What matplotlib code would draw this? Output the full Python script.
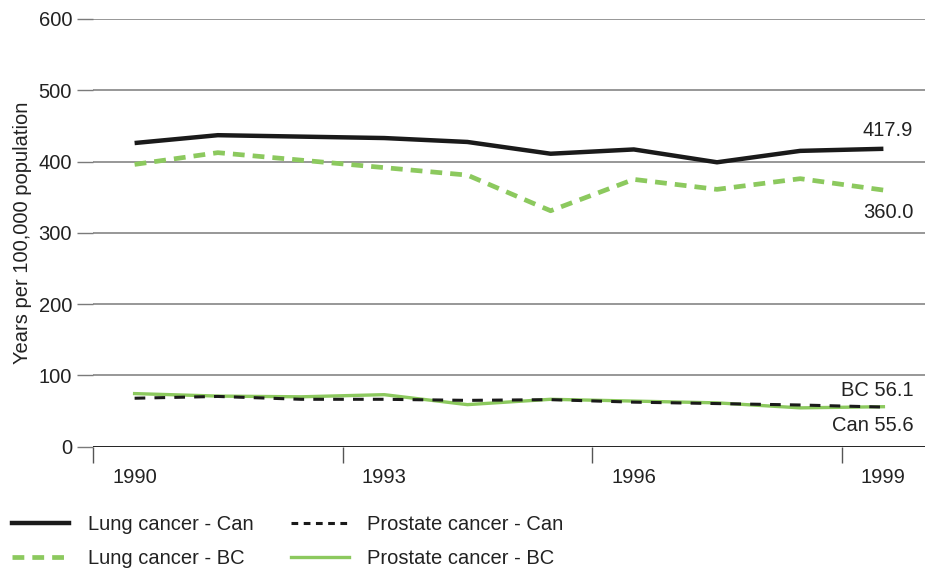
import matplotlib
matplotlib.use("Agg")
import matplotlib.pyplot as plt
from matplotlib.lines import Line2D

plt.rcParams['font.family'] = ['Liberation Sans', 'DejaVu Sans']

years = ['1990', '1991', '1992', '1993', '1994', '1995', '1996', '1997', '1998', '1999']
lung_can = [426, 437, 435, 433, 427.5, 411, 417, 399, 415, 417.9]
lung_bc = [396, 412.5, 402, 391.5, 381, 331, 375, 361, 376, 360.0]
prost_can = [68, 70.5, 66.5, 66.5, 65, 66, 62.5, 60.5, 58.5, 55.6]
prost_bc = [74.5, 71, 70, 73, 59, 66.5, 64, 61.5, 54.5, 56.1]
tick_labels = ['1990', '1993', '1996', '1999']
yticks = [0, 100, 200, 300, 400, 500, 600]

GREEN = '#8cc95e'
GRID = '#7a7a7a'

W, H = 927, 569
fig = plt.figure(figsize=(W / 100, H / 100), dpi=100)
ax = fig.add_axes([93 / W, 1 - 446.7 / H, (925 - 93) / W, (446.7 - 19) / H])

x = list(range(len(years)))
ax.plot(x, lung_can, color='#1a1a1a', lw=3.2, solid_capstyle='butt', zorder=4)
ax.plot(x, lung_bc, color=GREEN, lw=3.4, dashes=(2.5, 1.7), zorder=4)
ax.plot(x, prost_can, color='#1a1a1a', lw=2.2, dashes=(3.5, 3.0), zorder=4)
ax.plot(x, prost_bc, color=GREEN, lw=2.4, zorder=3)

ax.set_xlim(-0.5, 9.5)
ax.set_ylim(0, 600)

for v in yticks[1:]:
    ax.axhline(v, color=GRID, lw=1.1, zorder=1)
ax.axhline(0, color='#222222', lw=1.4, zorder=2)

for s in ['top', 'right', 'left', 'bottom']:
    ax.spines[s].set_visible(False)

ax.set_yticks(yticks)
ax.set_yticklabels([str(v) for v in yticks], fontsize=14.5, color='#222222')
ax.tick_params(axis='y', length=11.5, width=1.0, color=GRID, pad=3.6)

ax.set_xticks([-0.5, 2.5, 5.5, 8.5])
ax.set_xticklabels([])
ax.tick_params(axis='x', length=11.5, width=1.0, color='#555555')
for i, lab in zip([0, 3, 6, 9], tick_labels):
    ax.annotate(lab, xy=(i, 0), xycoords='data', xytext=(0, -22),
                textcoords='offset points', ha='center', va='center',
                fontsize=14.5, color='#222222', annotation_clip=False)

ax.set_ylabel('Years per 100,000 population', fontsize=14.5, color='#222222')
ax.yaxis.set_label_coords(-0.073, 0.5)

# end labels
def lab(txt, yv, dy):
    ax.annotate(txt, xy=(9.36, yv), xycoords='data', xytext=(0, dy),
                textcoords='offset points', ha='right', va='center',
                fontsize=14.5, color='#222222', annotation_clip=False)

lab('417.9', lung_can[-1], 13.5)
lab('360.0', lung_bc[-1], -16)
lab('BC 56.1', prost_bc[-1], 11.5)
lab('Can 55.6', prost_can[-1], -13)

handles = [
    Line2D([], [], color='#1a1a1a', lw=3.2),
    Line2D([], [], color=GREEN, lw=3.4, dashes=(2.5, 1.7)),
    Line2D([], [], color='#1a1a1a', lw=2.2, dashes=(2.2, 1.8)),
    Line2D([], [], color=GREEN, lw=2.4),
]
labels = ['Lung cancer - Can', 'Lung cancer - BC', 'Prostate cancer - Can', 'Prostate cancer - BC']
leg = fig.legend(handles, labels, loc='upper left', bbox_to_anchor=(4 / W, 1 - 507 / H),
                 ncol=2, frameon=False, fontsize=14.5, handlelength=2.85,
                 handletextpad=0.9, columnspacing=1.9, labelspacing=0.75,
                 borderaxespad=0.2, borderpad=0.2)
for t in leg.get_texts():
    t.set_color('#222222')

fig.savefig('out.png', dpi=100)
